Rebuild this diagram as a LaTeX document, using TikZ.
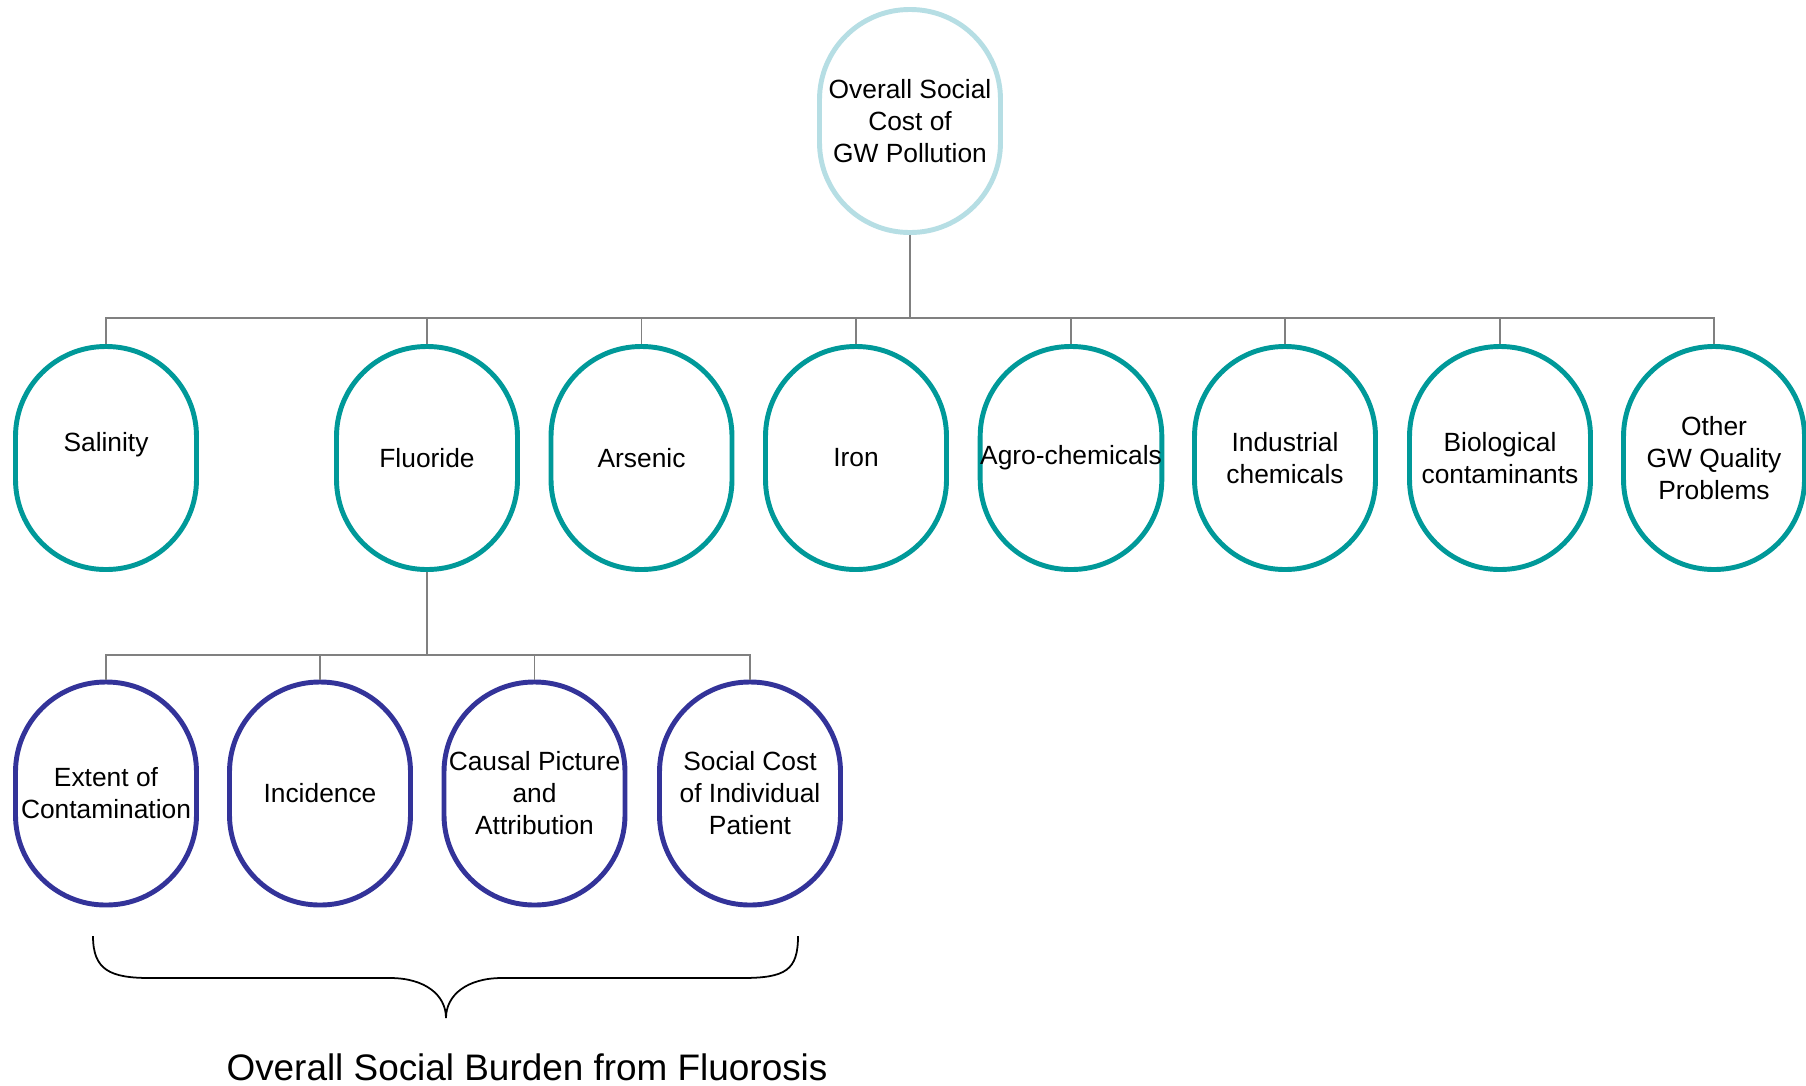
\documentclass[tikz,border=0pt]{standalone}
\usepackage{fontspec}
\setmainfont{Liberation Sans}
\definecolor{topblue}{RGB}{182,222,228}
\definecolor{tealc}{RGB}{0,153,153}
\definecolor{navy}{RGB}{51,51,153}
\definecolor{linkgray}{RGB}{128,128,128}
\begin{document}
\begin{tikzpicture}[font=\fontsize{15}{18.2}\selectfont,
    pill/.style={draw, line width=2.8pt, rectangle, rounded corners=1.8cm, minimum width=3.62cm, minimum height=4.46cm, inner sep=0pt, align=center, fill=white},
    link/.style={draw=linkgray, line width=1.1pt}]
        \useasboundingbox (0, 0) rectangle (36.12, -21.7);

        % Root
        \node[pill, draw=topblue] (top) at (18.2, -2.42) {Overall Social\\Cost of\\GW Pollution};

        % Pollutants
        \node[pill, draw=tealc] (sal) at (2.12, -9.16) {Salinity\\\mbox{}};
        \node[pill, draw=tealc] (flu) at (8.54, -9.16) {Fluoride};
        \node[pill, draw=tealc] (ars) at (12.83, -9.16) {Arsenic};
        \node[pill, draw=tealc] (iron) at (17.12, -9.16) {Iron};
        \node[pill, draw=tealc] (agro) at (21.42, -9.16) {Agro-chemicals};
        \node[pill, draw=tealc] (ind) at (25.70, -9.16) {Industrial\\chemicals};
        \node[pill, draw=tealc] (bio) at (30.0, -9.16) {Biological\\contaminants};
        \node[pill, draw=tealc] (oth) at (34.28, -9.16) {Other\\GW Quality\\Problems};

        % Fluorosis components
        \node[pill, draw=navy] (ext) at (2.12, -15.87) {Extent of\\Contamination};
        \node[pill, draw=navy] (inc) at (6.40, -15.87) {Incidence};
        \node[pill, draw=navy] (cau) at (10.69, -15.87) {Causal Picture\\and\\Attribution};
        \node[pill, draw=navy] (soc) at (15.0, -15.87) {Social Cost\\of Individual\\Patient};

        % Links
        \coordinate (bus) at (18.2, -6.36);
        \coordinate (fbus) at (8.54, -13.1);
        \draw[link] (top.south) -- (bus);
        \foreach \n in {sal, flu, ars, iron, agro, ind, bio, oth}
            \draw[link] (bus) -| (\n.north);
        \draw[link] (flu.south) -- (fbus);
        \foreach \n in {ext, inc, cau, soc}
            \draw[link] (fbus) -| (\n.north);

        % Brace
        \draw[line width=1pt] (1.86, -18.72) .. controls (1.86, -19.4) and (2.2, -19.56) .. (3.0, -19.56)
            -- (7.8, -19.56) .. controls (8.5, -19.56) and (8.92, -19.9) .. (8.92, -20.36)
            .. controls (8.92, -19.9) and (9.34, -19.56) .. (10.04, -19.56)
            -- (14.84, -19.56) .. controls (15.72, -19.56) and (15.96, -19.4) .. (15.96, -18.72);
        \node[font=\fontsize{21}{25}\selectfont] (burden) at (10.54, -21.34) {Overall Social Burden from Fluorosis};
    \end{tikzpicture}
\end{document}
